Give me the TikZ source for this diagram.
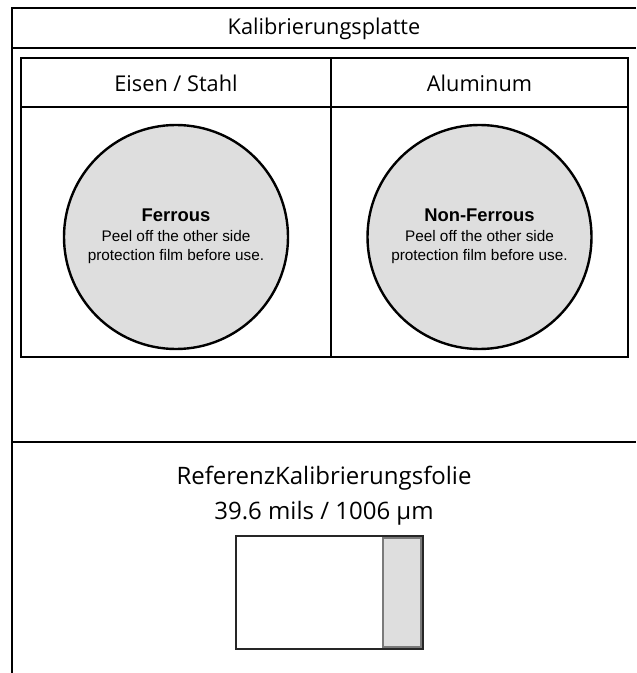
\documentclass[tikz,border=0pt]{standalone}
\usepackage{fontspec}
\setmainfont{Open Sans}
\newfontfamily\discfont{Liberation Sans}
\definecolor{discgray}{HTML}{DEDEDE}
\definecolor{linegray}{HTML}{7A7A7A}

\begin{document}
\begin{tikzpicture}[x=0.75pt,y=-0.75pt,line width=1.8pt,
		head/.style={font=\fontsize{16.3}{19}\selectfont,inner sep=0pt},
		big/.style={font=\fontsize{18}{21}\selectfont,inner sep=0pt},
		disctext/.style={align=center,inner sep=0pt,font=\discfont\fontsize{11.5}{14}\selectfont}]
		\useasboundingbox (0,0) rectangle (636,673);
		\coordinate (tl) at (12,8);
		\coordinate (tr) at (636,8);
		\coordinate (bl) at (12,673);
		
		% the outer frame
		\draw (tr) -- (tl) -- (bl);
		\draw (12,48) -- (636,48);
		\draw (12,442) -- (636,442);
		\node[head] (platte) at (324,29) {Kalibrierungsplatte};
		
		% the table with the two plates
		\draw (21,58) rectangle (628,357);
		\draw (21,107) -- (628,107);
		\draw (331,58) -- (331,357);
		\node[head] (eisen) at (176,83) {Eisen / Stahl};
		\node[head] (alu) at (479.5,83) {Aluminum};
		
		% the two discs
		\foreach \n/\cx/\titel in {1/176/Ferrous,2/479.5/Non-Ferrous}
		{
			\draw[fill=discgray] (\cx,237) circle[radius=112];
			\node[disctext] (disc\n) at (\cx,236) {{\bfseries\fontsize{13.8}{16}\selectfont \titel}\\[1pt]
				Peel off the other side\\protection film before use.};
		}
		
		% the reference foil
		\node[big] (folie) at (324,478) {ReferenzKalibrierungsfolie};
		\node[big] (dicke) at (324,513) {39.6 mils / 1006 µm};
		\draw[fill=discgray,draw=linegray,line width=1pt] (383,538) rectangle (421,647);
		\draw[draw=black!85] (236,536) rectangle (423,649);
	\end{tikzpicture}
\end{document}
